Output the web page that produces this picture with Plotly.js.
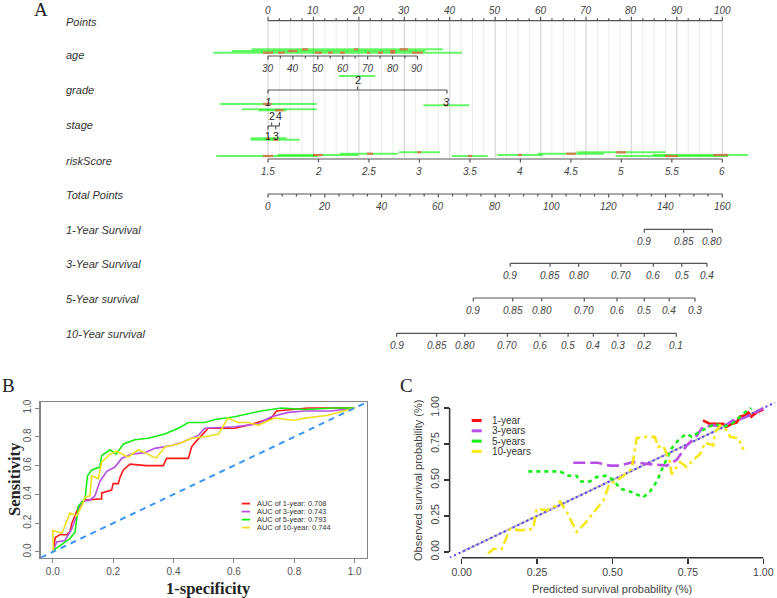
<!DOCTYPE html>
<html><head><meta charset="utf-8">
<script src="https://cdn.plot.ly/plotly-3.0.1.min.js"></script>
<style>html,body{margin:0;padding:0;background:#fff;}#chart{width:777px;height:598px;}</style>
</head><body><div id="chart"></div>
<script>
// ================= DATA =================
// Nomogram scales (values -> points)
const pointsTicks = [0,10,20,30,40,50,60,70,80,90,100];
const ageTicks = [30,40,50,60,70,80,90];
const ageMaxPoints = 32.9;            // points reached at age 90
const gradeLabels = ['1','2','3'];
const gradePoints = [0,19.7,39.4];
const stageLabels = ['1','2','3','4'];
const stagePoints = [0,0.8,1.7,2.5];
const riskTicks = [1.5,2,2.5,3,3.5,4,4.5,5,5.5,6];
const totalTicks = [0,20,40,60,80,100,120,140,160];
const surv1Labels = ['0.9','0.85','0.80'];
const surv1Total  = [132.5,146.4,156.5];
const surv3Labels = ['0.9','0.85','0.80','0.70','0.6','0.5','0.4'];
const surv3Total  = [85.3,99.3,109.4,124.3,135.7,145.7,154.6];
const surv5Labels = ['0.9','0.85','0.80','0.70','0.6','0.5','0.4','0.3'];
const surv5Total  = [72.3,86.2,96.4,111.4,122.9,132.5,141.3,150.4];
const surv10Labels = ['0.9','0.85','0.80','0.70','0.6','0.5','0.4','0.3','0.2','0.1'];
const surv10Total  = [45.3,59.4,69.3,84.3,95.8,105.7,114.6,123.2,132.5,143.8];

// Nomogram distribution bars (in points units) and their lane
const greenStart = [-12.1,-8.0,-3.6, 15.6,-10.6,34.2, -5.8,-2.1, -3.8,-3.8,
                    -11.4,2.1,15.8,28.8,40.5,50.4,59.4,68.0,76.5,84.7];
const greenEnd   = [42.7,34.6,38.5, 23.6,10.7,44.3, 10.7,4.1, 4.1,7.0,
                    11.0,19.9,28.6,37.9,48.4,60.5,74.0,87.5,101.3,105.7];
const greenLane  = ['a0','a1','a2','g2','g1','g3','s1','s2','s3','s4',
                    'r0','r1','r2','r3','r0','r1','r2','r3','r0','r1'];
const redStart = [-1.1,2.2,10.3,13.2,15.8,21.8,24.2,26.9,31.7, 4.4,26.9, 7.5,18.9,29.0,
                  -1.1,39.0,1.5,-0.3,1.2,
                  -1.1,9.9,21.8,32.8,44.0,55.0,65.6,76.6,87.4,98.0];
const redEnd   = [1.1,3.7,11.9,14.3,16.9,22.5,25.3,28.0,34.1, 6.4,28.0, 8.8,19.8,30.8,
                  0.8,39.6,3.4,0.4,2.3,
                  1.1,12.1,23.1,33.7,44.9,55.9,67.8,78.8,90.2,101.3];
const redLane  = ['a0','a0','a0','a0','a0','a0','a0','a0','a0','a1','a1','a2','a2','a2',
                  'g1','g3','s2','s3','s4',
                  'r0','r1','r2','r3','r0','r1','r2','r3','r0','r1'];

// ROC (panel B)
const rocTicks = [0,0.2,0.4,0.6,0.8,1.0];
const rocTickText = ['0.0','0.2','0.4','0.6','0.8','1.0'];
const rocNames = ['AUC of 1-year: 0.708','AUC of 3-year: 0.743','AUC of 5-year: 0.793','AUC of 10-year: 0.744'];
const roc1x = [0,0.002,0.008,0.024,0.046,0.057,0.063,0.074,0.085,0.107,0.162,0.162,0.195,0.2,0.217,0.223,0.234,0.256,0.31,0.366,0.377,0.449,0.46,0.471,0.493,0.515,0.603,0.647,0.724,0.741,0.846,0.923,1];
const roc1y = [0,0.01,0.10,0.12,0.12,0.14,0.20,0.25,0.31,0.36,0.37,0.41,0.43,0.475,0.475,0.52,0.57,0.61,0.60,0.60,0.65,0.65,0.73,0.76,0.81,0.86,0.86,0.88,0.93,0.98,1.0,1.0,1];
const roc3x = [0,0.002,0.013,0.04,0.063,0.079,0.096,0.123,0.14,0.156,0.179,0.206,0.228,0.261,0.305,0.338,0.394,0.427,0.482,0.504,0.603,0.68,0.724,0.78,0.835,0.923,1];
const roc3y = [0,0.01,0.07,0.08,0.16,0.25,0.35,0.36,0.39,0.49,0.56,0.59,0.65,0.68,0.69,0.72,0.74,0.76,0.81,0.86,0.87,0.89,0.94,0.97,0.98,0.98,1];
const roc5x = [0,0.002,0.057,0.074,0.085,0.107,0.115,0.129,0.156,0.162,0.19,0.21,0.234,0.272,0.316,0.371,0.416,0.449,0.504,0.537,0.603,0.69,0.757,0.835,0.934,1];
const roc5y = [0,0.012,0.093,0.139,0.32,0.37,0.53,0.57,0.59,0.67,0.71,0.68,0.75,0.78,0.79,0.82,0.86,0.90,0.90,0.92,0.94,0.98,1.0,0.99,1.0,1];
const roc10x = [0,0.002,0,0.03,0.057,0.079,0.096,0.107,0.123,0.129,0.151,0.162,0.19,0.21,0.25,0.283,0.305,0.333,0.344,0.371,0.416,0.46,0.504,0.55,0.58,0.614,0.647,0.68,0.735,0.80,0.835,0.912,1];
const roc10y = [0,0.01,0.15,0.13,0.27,0.25,0.32,0.38,0.39,0.53,0.51,0.625,0.68,0.70,0.66,0.71,0.69,0.66,0.655,0.73,0.75,0.79,0.80,0.82,0.93,0.90,0.90,0.88,0.93,0.915,0.93,0.95,1];

// Calibration (panel C)
const calTicks = [0,0.25,0.5,0.75,1];
const calTickText = ['0.00','0.25','0.50','0.75','1.00'];
const calNames = ['1-year','3-years','5-years','10-years'];
const cal1x = [0.80,0.823,0.867,0.878,0.895,0.912,0.923,0.94,0.95,0.96,0.978,1.0];
const cal1y = [0.915,0.89,0.89,0.87,0.89,0.90,0.94,0.95,0.97,0.94,0.97,0.99];
const cal3x = [0.37,0.45,0.49,0.525,0.569,0.624,0.68,0.713,0.746,0.78,0.80,0.834,0.867,0.90,0.934,0.967,1.0];
const cal3y = [0.62,0.62,0.60,0.60,0.625,0.61,0.60,0.64,0.74,0.81,0.87,0.88,0.87,0.915,0.93,0.96,1.0];
const cal5x = [0.221,0.326,0.354,0.381,0.392,0.425,0.447,0.48,0.503,0.525,0.558,0.602,0.624,0.647,0.663,0.68,0.696,0.724,0.746,0.763,0.784,0.812,0.84,0.867,0.895,0.923,0.945,0.96];
const cal5y = [0.56,0.56,0.53,0.53,0.49,0.49,0.52,0.53,0.50,0.44,0.42,0.38,0.42,0.49,0.57,0.65,0.72,0.79,0.82,0.80,0.83,0.86,0.89,0.87,0.89,0.94,0.98,1.0];
const cal10x = [0.088,0.105,0.133,0.16,0.193,0.237,0.249,0.282,0.304,0.326,0.348,0.381,0.414,0.448,0.47,0.49,0.51,0.536,0.564,0.575,0.58,0.613,0.64,0.652,0.668,0.68,0.69,0.696,0.724,0.746,0.768,0.79,0.807,0.834,0.84,0.857,0.879,0.89,0.917,0.934];
const cal10y = [-0.01,0.02,0.02,0.16,0.15,0.16,0.30,0.29,0.31,0.35,0.28,0.14,0.21,0.30,0.36,0.475,0.49,0.53,0.58,0.72,0.79,0.80,0.80,0.73,0.74,0.68,0.625,0.54,0.625,0.59,0.64,0.68,0.76,0.74,0.83,0.88,0.845,0.80,0.79,0.71];

// ================= DRAWING =================
const W = 777, H = 598;
const SANS = '"Liberation Sans", Arial, sans-serif';
const SERIF = '"Liberation Serif", "Times New Roman", serif';
const X0 = 268, PXPP = 4.543;                 // nomogram: pixel of 0 points, px per point
const rowY = {points:20.7, age:56, grade:90, stage:126, risk:159, total:194, s1:229.3, s3:263.3, s5:298, s10:333.3};
const laneY = {a0:52.7,a1:51,a2:49.3,g2:76,g1:104,g3:105.3,s1:109.3,s2:110.3,s3:138.3,s4:139.7,r0:156,r1:155,r2:153.7,r3:152.3};
const ageToPts = a => (a-30)*ageMaxPoints/60;
const riskToPts = r => (r-riskTicks[0])*100/(riskTicks[riskTicks.length-1]-riskTicks[0]);
const totToPts = t => t*100/totalTicks[totalTicks.length-1];

const traces = [], annotations = [], shapes = [];
function segTrace(segs, color, width){
  const x=[], y=[];
  segs.forEach(s=>{x.push(s[0],s[2],null); y.push(s[1],s[3],null);});
  traces.push({type:'scatter',mode:'lines',x,y,xaxis:'x',yaxis:'y',line:{color,width},hoverinfo:'skip',showlegend:false});
}
function tickLab(x,y,t,size,color,italic){
  annotations.push({x,y,xref:'x',yref:'y',text: italic?('<i>'+t+'</i>'):t,showarrow:false,xanchor:'center',yanchor:'middle',
    font:{family:SANS,size:size||10,color:color||'#444'}});
}

// vertical reference grid
const gridMajor=[], gridMinor=[];
for(let p=0;p<=100.001;p+=2.5){
  (Math.abs(p%10)<1e-6 ? gridMajor : gridMinor).push([p,rowY.points,p,157.5]);
}
segTrace(gridMinor,'#ececec',1);
segTrace(gridMajor,'#d8d8d8',1.3);

const axisSegs = [];
// Points
axisSegs.push([0,rowY.points,100,rowY.points]);
for(let p=0;p<=100.001;p+=2.5){
  const maj = Math.abs(p%10)<1e-6;
  axisSegs.push([p,rowY.points,p,rowY.points-(maj?4:2.5)]);
}
pointsTicks.forEach(p=>tickLab(p,10,String(p),10,'#444',true));
// age
axisSegs.push([ageToPts(30),rowY.age,ageToPts(90),rowY.age]);
for(let a=30;a<=90;a+=5){ axisSegs.push([ageToPts(a),rowY.age,ageToPts(a),rowY.age+(a%10===0?3.5:2.5)]); }
ageTicks.forEach(a=>tickLab(ageToPts(a),68,String(a),10,'#444',true));
// grade
axisSegs.push([gradePoints[0],rowY.grade,gradePoints[gradePoints.length-1],rowY.grade]);
gradeLabels.forEach((g,i)=>{
  const up = (i===1);
  axisSegs.push([gradePoints[i],rowY.grade,gradePoints[i],rowY.grade+(up?-3.5:3.5)]);
  tickLab(gradePoints[i], up?80:102, g, 11, '#222', i!==1);
});
// stage
axisSegs.push([stagePoints[0],rowY.stage,stagePoints[stagePoints.length-1],rowY.stage]);
stageLabels.forEach((s,i)=>{
  const up = (i%2===1);
  axisSegs.push([stagePoints[i],rowY.stage,stagePoints[i],rowY.stage+(up?-3.5:3.5)]);
  tickLab(stagePoints[i], up?115.5:136, s, 10.5, '#222', false);
});
// riskScore
axisSegs.push([riskToPts(riskTicks[0]),rowY.risk,riskToPts(riskTicks[riskTicks.length-1]),rowY.risk]);
riskTicks.forEach(r=>{ axisSegs.push([riskToPts(r),rowY.risk,riskToPts(r),rowY.risk+3.5]); tickLab(riskToPts(r),171.7,String(r),10,'#444',true); });
// total points
axisSegs.push([0,rowY.total,totToPts(160),rowY.total]);
for(let t=0;t<=160;t+=5){ axisSegs.push([totToPts(t),rowY.total,totToPts(t),rowY.total+(t%20===0?3.5:2.5)]); }
totalTicks.forEach(t=>tickLab(totToPts(t),206,String(t),10,'#444',true));
// survival axes
[[surv1Labels,surv1Total,rowY.s1],[surv3Labels,surv3Total,rowY.s3],[surv5Labels,surv5Total,rowY.s5],[surv10Labels,surv10Total,rowY.s10]].forEach(([labs,tots,y])=>{
  axisSegs.push([totToPts(tots[0]),y,totToPts(tots[tots.length-1]),y]);
  tots.forEach((t,i)=>{ axisSegs.push([totToPts(t),y,totToPts(t),y+3.5]); tickLab(totToPts(t),y+12,labs[i],10,'#444',true); });
});
segTrace(axisSegs,'#555',1.2);

// distribution bars
segTrace(greenStart.map((s,i)=>[s,laneY[greenLane[i]],greenEnd[i],laneY[greenLane[i]]]),'rgba(20,245,20,0.65)',2);
segTrace(redStart.map((s,i)=>[s,laneY[redLane[i]],redEnd[i],laneY[redLane[i]]]),'rgba(255,60,60,0.6)',2.4);

// row labels
const rowLabels = [['Points',21.5],['age',54.5],['grade',90],['stage',125],['riskScore',160.5],['Total Points',195],
  ['1-Year Survival',230],['3-Year Survival',264],['5-Year survival',299],['10-Year survival',333.7]];
rowLabels.forEach(([t,y])=>annotations.push({x:64/W,y,xref:'paper',yref:'y',text:'<i>'+t+'</i>',showarrow:false,xanchor:'left',yanchor:'middle',font:{family:SANS,size:11,color:'#333'}}));

// ---------- panel B: ROC ----------
const rocColors = ['#ff1a1a','#b650e0','#14ee14','#f0e020'];
[[roc1x,roc1y],[roc3x,roc3y],[roc5x,roc5y],[roc10x,roc10y]].forEach(([x,y],i)=>{
  traces.push({type:'scatter',mode:'lines',x,y,xaxis:'x2',yaxis:'y2',name:rocNames[i],line:{color:rocColors[i],width:1.6},hoverinfo:'skip',showlegend:false});
});
traces.push({type:'scatter',mode:'lines',x:[-0.04,1.04],y:[-0.04,1.04],xaxis:'x2',yaxis:'y2',line:{color:'#3a96f5',width:2,dash:'6px,5px'},hoverinfo:'skip',showlegend:false});

// ---------- panel C: calibration ----------
const calColors = ['#ff1010','#b94fe6','#16ee16','#f7e71a'];
const calDash = ['solid','12px,5px','4px,4px','10px,4px,3px,4px'];
traces.push({type:'scatter',mode:'lines',x:[0,1],y:[0,1],xaxis:'x3',yaxis:'y3',line:{color:'#bdbdbd',width:2.2},hoverinfo:'skip',showlegend:false});
traces.push({type:'scatter',mode:'lines',x:[-0.04,1.04],y:[-0.04,1.04],xaxis:'x3',yaxis:'y3',line:{color:'#5a3cff',width:2,dash:'2px,3px'},hoverinfo:'skip',showlegend:false});
[[cal1x,cal1y],[cal3x,cal3y],[cal5x,cal5y],[cal10x,cal10y]].forEach(([x,y],i)=>{
  traces.push({type:'scatter',mode:'lines',x,y,xaxis:'x3',yaxis:'y3',name:calNames[i],line:{color:calColors[i],width:2.6,dash:calDash[i]},hoverinfo:'skip',showlegend:false});
});

// legends (manual)
const bLegY = [503.6,511.6,519.6,527.6];
rocNames.forEach((n,i)=>{
  shapes.push({type:'line',xref:'paper',yref:'paper',x0:241.7/W,x1:250/W,y0:1-bLegY[i]/H,y1:1-bLegY[i]/H,line:{color:rocColors[i],width:1.8}});
  annotations.push({x:256/W,y:1-bLegY[i]/H,xref:'paper',yref:'paper',text:n,showarrow:false,xanchor:'left',yanchor:'middle',borderpad:0,font:{family:SANS,size:7.4,color:'#333'}});
});
const cLegY = [420.5,430.8,441.1,451.4];
calNames.forEach((n,i)=>{
  shapes.push({type:'line',xref:'paper',yref:'paper',x0:471.7/W,x1:481.7/W,y0:1-cLegY[i]/H,y1:1-cLegY[i]/H,line:{color:calColors[i],width:3}});
  annotations.push({x:491/W,y:1-cLegY[i]/H,xref:'paper',yref:'paper',text:n,showarrow:false,xanchor:'left',yanchor:'middle',borderpad:0,font:{family:SANS,size:10,color:'#333'}});
});

// C axis lines (R style, only between first and last tick)
shapes.push({type:'line',xref:'x3',yref:'y3 domain',x0:0,x1:1,y0:0,y1:0,line:{color:'#333',width:1.5}});
shapes.push({type:'line',xref:'x3 domain',yref:'y3',x0:0,x1:0,y0:0,y1:1,line:{color:'#333',width:1.5}});

// panel letters & axis titles
function paperText(x,y,t,font,extra){ annotations.push(Object.assign({x:x/W,y:1-y/H,xref:'paper',yref:'paper',text:t,showarrow:false,xanchor:'center',yanchor:'middle',font},extra||{})); }
paperText(41,10,'A',{family:SERIF,size:19,color:'#222'});
paperText(8,385,'B',{family:SERIF,size:19,color:'#222'});
paperText(406,385,'C',{family:SERIF,size:19,color:'#222'});
paperText(208,588,'<b>1-specificity</b>',{family:SERIF,size:16.5,color:'#222'});
paperText(14,479,'<b>Sensitivity</b>',{family:SERIF,size:16.5,color:'#222'},{textangle:-90});
paperText(611.7,589,'Predicted survival probability (%)',{family:SANS,size:11,color:'#444'});
paperText(418,480,'Observed survival probability (%)',{family:SANS,size:11,color:'#444'},{textangle:-90});

const bDomX=[40.7/W,366.7/W], panDomY=[(H-557.7)/H,(H-402.3)/H], cDomX=[449.6/W,775.4/W];
const axB = {range:[-0.04,1.04],showgrid:false,zeroline:false,showline:true,mirror:true,linecolor:'#858585',linewidth:1.6,
  ticks:'outside',ticklen:4,tickcolor:'#858585',tickwidth:1,tickfont:{family:SANS,size:10,color:'#555'},
  tickmode:'array',tickvals:rocTicks,ticktext:rocTickText,fixedrange:true};
const axC = {range:[-0.04,1.04],showgrid:false,zeroline:false,showline:false,
  ticks:'outside',ticklen:5,tickcolor:'#333',tickwidth:1.3,tickfont:{family:SANS,size:10.5,color:'#444'},
  tickmode:'array',tickvals:calTicks,ticktext:calTickText,fixedrange:true};

const layout = {
  width:W,height:H,margin:{l:0,r:0,t:0,b:0},paper_bgcolor:'#ffffff',plot_bgcolor:'rgba(0,0,0,0)',showlegend:false,
  xaxis:{domain:[0,1],range:[-X0/PXPP,(W-X0)/PXPP],visible:false,fixedrange:true},
  yaxis:{domain:[0,1],range:[H,0],visible:false,fixedrange:true},
  xaxis2:Object.assign({},axB,{domain:bDomX,anchor:'y2'}),
  yaxis2:Object.assign({},axB,{domain:panDomY,anchor:'x2',tickangle:-90}),
  xaxis3:Object.assign({},axC,{domain:cDomX,anchor:'y3'}),
  yaxis3:Object.assign({},axC,{domain:panDomY,anchor:'x3',tickangle:-90}),
  annotations,shapes
};
Plotly.newPlot('chart',traces,layout,{staticPlot:true,displayModeBar:false});
</script></body></html>
